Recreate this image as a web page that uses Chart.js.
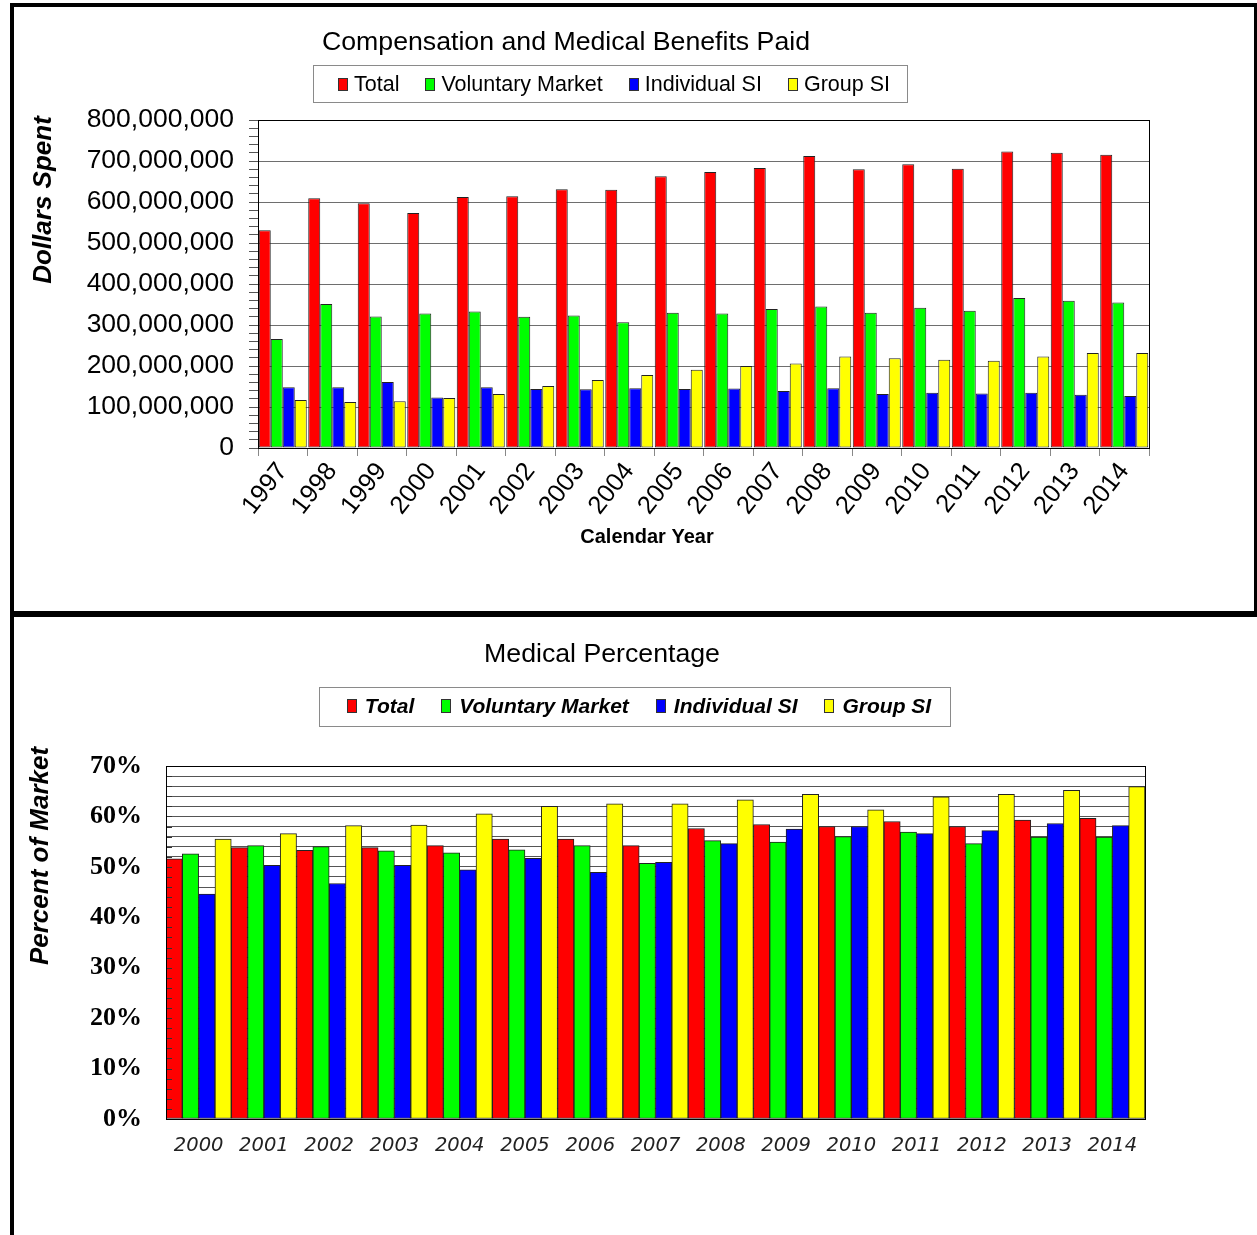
<!DOCTYPE html>
<html><head><meta charset="utf-8">
<script src="https://cdn.jsdelivr.net/npm/chart.js@4.4.1/dist/chart.umd.min.js"></script>
<style>
html,body{margin:0;padding:0;background:#fff;}
body{width:1257px;height:1235px;position:relative;overflow:hidden;}
.frame{position:absolute;background:#000;}
#w1{position:absolute;left:14px;top:7px;width:1240px;height:604px;}
#w2{position:absolute;left:14px;top:617px;width:1240px;height:618px;}
</style></head><body>
<div class="frame" style="left:10px;top:3px;width:1247px;height:4px"></div>
<div class="frame" style="left:10px;top:3px;width:4px;height:1232px"></div>
<div class="frame" style="left:1254px;top:3px;width:3px;height:610px"></div>
<div class="frame" style="left:10px;top:611px;width:1247px;height:6px"></div>
<div id="w1"><canvas id="c1"></canvas></div>
<div id="w2"><canvas id="c2"></canvas></div>
<script>
// ---------- DATA ----------
const seriesNames = ['Total', 'Voluntary Market', 'Individual SI', 'Group SI'];

const years1 = ['1997','1998','1999','2000','2001','2002','2003','2004','2005','2006','2007','2008','2009','2010','2011','2012','2013','2014'];
const total1 = [531e6,609e6,597e6,573e6,612e6,614e6,631e6,630e6,663e6,673e6,683e6,712e6,680e6,692e6,681e6,723e6,720e6,715e6];
const voluntary1 = [266e6,351e6,321e6,328e6,333e6,320e6,323e6,307e6,330e6,328e6,339e6,345e6,330e6,342e6,335e6,366e6,359e6,355e6];
const individual1 = [148e6,148e6,161e6,123e6,148e6,144e6,143e6,146e6,144e6,145e6,139e6,146e6,132e6,135e6,133e6,135e6,130e6,127e6];
const group1 = [117e6,112e6,114e6,122e6,132e6,151e6,166e6,178e6,191e6,200e6,206e6,223e6,219e6,215e6,213e6,223e6,232e6,232e6];
const dollarTicks = [0,100e6,200e6,300e6,400e6,500e6,600e6,700e6,800e6];

const years2 = ['2000','2001','2002','2003','2004','2005','2006','2007','2008','2009','2010','2011','2012','2013','2014'];
const total2 = [51.6,53.8,53.3,53.8,54.2,55.5,55.5,54.2,57.6,58.4,58.0,59.0,58.0,59.3,59.6];
const voluntary2 = [52.6,54.2,54.0,53.2,52.8,53.4,54.2,50.7,55.2,54.9,56.0,56.9,54.6,55.9,55.9];
const individual2 = [44.6,50.3,46.7,50.3,49.4,51.7,48.9,50.9,54.6,57.5,58.0,56.6,57.2,58.6,58.2];
const group2 = [55.5,56.6,58.2,58.3,60.5,62.0,62.5,62.5,63.3,64.4,61.3,63.9,64.4,65.2,65.9];
const percentTicks = [0,10,20,30,40,50,60,70];

// ---------- STYLE ----------
const colors = ['#FF0000', '#00FF00', '#0000FF', '#FFFF00'];
const SANS = "'Liberation Sans', Arial, sans-serif";

function mkDatasets(arrs) {
  return arrs.map((d, i) => ({
    label: seriesNames[i], data: d,
    backgroundColor: colors[i], borderColor: '#222', borderWidth: 1, borderSkipped: false
  }));
}

const decor = {
  id: 'decor',
  afterDatasetsDraw(chart, args, o) {
    const ctx = chart.ctx, a = chart.chartArea;
    ctx.save();
    if (o.innerTicks) {
      const ys = chart.scales.y;
      ctx.strokeStyle = '#333'; ctx.lineWidth = 1;
      ys.ticks.forEach(t => {
        const py = Math.round(ys.getPixelForValue(t.value)) + 0.5;
        ctx.beginPath(); ctx.moveTo(a.left, py); ctx.lineTo(a.left + 6, py); ctx.stroke();
      });
    }
    ctx.strokeStyle = '#000'; ctx.lineWidth = 1;
    ctx.strokeRect(Math.round(a.left) + 0.5, Math.round(a.top) + 0.5, Math.round(a.right - a.left), Math.round(a.bottom - a.top));
    ctx.restore();
  },
  afterDraw(chart, args, o) {
    const ctx = chart.ctx;
    ctx.save();
    ctx.fillStyle = '#000';
    ctx.textBaseline = 'middle';
    ctx.textAlign = 'center';
    ctx.font = o.titleFont;
    ctx.fillText(o.title, o.titleX, o.titleY);
    if (o.xTitle) {
      ctx.font = o.xTitleFont;
      ctx.fillText(o.xTitle, o.xTitleX, o.xTitleY);
    }
    ctx.save();
    ctx.translate(o.yTitleX, o.yTitleY);
    ctx.rotate(-Math.PI / 2);
    ctx.font = o.yTitleFont;
    ctx.fillText(o.yTitle, 0, 0);
    ctx.restore();
    // legend
    const L = o.legend;
    ctx.strokeStyle = '#8a8a8a'; ctx.lineWidth = 1;
    ctx.strokeRect(L.left + 0.5, L.top + 0.5, L.width, L.height);
    ctx.font = L.font;
    const items = chart.data.datasets.map(d => ({ text: d.label, color: d.backgroundColor, w: ctx.measureText(d.label).width }));
    const rowW = items.reduce((s, it) => s + L.boxW + L.boxGap + it.w, 0) + L.itemGap * (items.length - 1);
    let x = L.cx - rowW / 2;
    ctx.textAlign = 'left';
    items.forEach(it => {
      const by = Math.round(L.cy - L.boxH / 2);
      ctx.fillStyle = it.color;
      ctx.fillRect(Math.round(x), by, L.boxW, L.boxH);
      ctx.strokeStyle = '#333';
      ctx.strokeRect(Math.round(x) + 0.5, by + 0.5, L.boxW - 1, L.boxH - 1);
      ctx.fillStyle = '#000';
      ctx.fillText(it.text, x + L.boxW + L.boxGap, L.cy + 1);
      x += L.boxW + L.boxGap + it.w + L.itemGap;
    });
    ctx.restore();
  }
};

// ---------- CHART 1 ----------
new Chart(document.getElementById('c1'), {
  type: 'bar',
  data: { labels: years1, datasets: mkDatasets([total1, voluntary1, individual1, group1]) },
  options: {
    responsive: true, maintainAspectRatio: false, animation: false,
    layout: { padding: { top: 113, right: 105, left: 0, bottom: 0 } },
    datasets: { bar: { categoryPercentage: 0.97, barPercentage: 1.0 } },
    plugins: {
      legend: { display: false }, tooltip: { enabled: false },
      decor: {
        title: 'Compensation and Medical Benefits Paid', titleFont: '26.7px ' + SANS, titleX: 552, titleY: 36,
        yTitle: 'Dollars Spent', yTitleFont: 'italic bold 26px ' + SANS, yTitleX: 30, yTitleY: 193,
        xTitle: 'Calendar Year', xTitleFont: 'bold 20px ' + SANS, xTitleX: 633, xTitleY: 530,
        legend: { left: 299, top: 58, width: 594, height: 37, cx: 600, cy: 77, font: '21.5px ' + SANS,
                  boxW: 10, boxH: 13, boxGap: 6, itemGap: 26 }
      }
    },
    scales: {
      x: {
        afterFit: s => { s.height = 163; },
        grid: { display: true, drawOnChartArea: false, offset: true, tickLength: 8, tickColor: '#888' },
        border: { color: '#000' },
        ticks: { autoSkip: false, maxRotation: 52, minRotation: 52, padding: 1, color: '#000', font: { family: SANS, size: 25.5 } }
      },
      y: {
        min: 0, max: 800e6,
        afterFit: s => { s.width = 244; },
        grid: {
          color: c => (dollarTicks.includes(c.tick.value) ? '#6e6e6e' : 'rgba(0,0,0,0)'),
          tickColor: '#555', tickLength: 9
        },
        border: { color: '#000' },
        ticks: {
          stepSize: 20e6, autoSkip: false, padding: 15, color: '#000', font: { family: SANS, size: 26.5 },
          callback: v => (dollarTicks.includes(v) ? v.toLocaleString('en-US') : '')
        }
      }
    }
  },
  plugins: [decor]
});

// ---------- CHART 2 ----------
new Chart(document.getElementById('c2'), {
  type: 'bar',
  data: { labels: years2, datasets: mkDatasets([total2, voluntary2, individual2, group2]) },
  options: {
    responsive: true, maintainAspectRatio: false, animation: false,
    layout: { padding: { top: 149, right: 109, left: 0, bottom: 0 } },
    datasets: { bar: { categoryPercentage: 1.0, barPercentage: 1.0 } },
    plugins: {
      legend: { display: false }, tooltip: { enabled: false },
      decor: {
        innerTicks: true,
        title: 'Medical Percentage', titleFont: '26.7px ' + SANS, titleX: 588, titleY: 38,
        yTitle: 'Percent of Market', yTitleFont: 'italic bold 26px ' + SANS, yTitleX: 27, yTitleY: 239,
        legend: { left: 305, top: 70, width: 631, height: 39, cx: 625, cy: 89, font: 'italic bold 21px ' + SANS,
                  boxW: 10, boxH: 14, boxGap: 8, itemGap: 27 }
      }
    },
    scales: {
      x: {
        afterFit: s => { s.height = 116; },
        grid: { display: false },
        border: { color: '#000' },
        ticks: { autoSkip: false, maxRotation: 0, padding: 7, color: '#222', font: { family: "'DejaVu Sans', sans-serif", size: 19.5, style: 'italic' } }
      },
      y: {
        min: 0, max: 70,
        afterFit: s => { s.width = 152; },
        grid: { color: '#555', drawTicks: false, tickLength: 0 },
        border: { color: '#000' },
        ticks: {
          stepSize: 2, autoSkip: false, padding: 24, color: '#000',
          font: { family: "'Liberation Serif', 'Times New Roman', serif", size: 26, weight: 'bold' },
          callback: v => (percentTicks.includes(v) ? v + '%' : '')
        }
      }
    }
  },
  plugins: [decor]
});
</script>
</body></html>
